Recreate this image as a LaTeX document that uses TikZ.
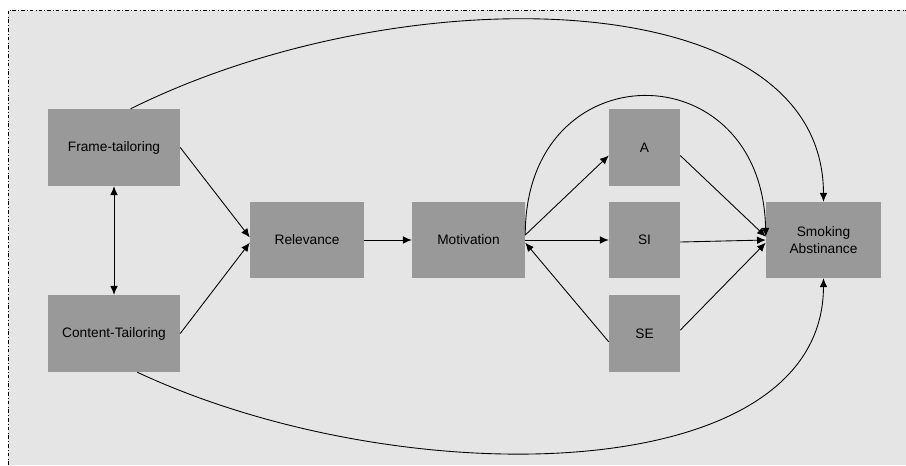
\documentclass[tikz,border=0pt]{standalone}
\usepackage{fontspec}
\setmainfont{Liberation Sans}
\usetikzlibrary{arrows.meta}
\definecolor{boxgrey}{HTML}{999999}
\definecolor{bggrey}{HTML}{E5E5E5}

\tikzset{
	box/.style={fill=boxgrey, inner sep=0pt, align=center, font=\fontsize{11.7}{14}\selectfont},
	link/.style={line width=0.75pt, -{Latex[length=7.5pt,width=6.5pt]}},
}

\begin{document}
\begin{tikzpicture}[x=0.03cm, y=-0.03cm]
			\useasboundingbox (0,0) rectangle (906,465);
			\fill[bggrey] (8,10) rectangle (906,465);
			\draw[dash dot, line width=0.6pt] (8,465) -- (8,10) -- (906,10);
			
			\node[box, minimum width=3.96cm, minimum height=2.31cm] (frame) at (114,147.5) {Frame-tailoring};
			\node[box, minimum width=3.96cm, minimum height=2.31cm] (content) at (114,333.5) {Content-Tailoring};
			\node[box, minimum width=3.42cm, minimum height=2.28cm] (relev) at (307,240) {Relevance};
			\node[box, minimum width=3.39cm, minimum height=2.28cm] (motiv) at (468.5,240) {Motivation};
			\node[box, minimum width=2.13cm, minimum height=2.31cm] (att) at (644.5,147.5) {A};
			\node[box, minimum width=2.13cm, minimum height=2.28cm] (si) at (644.5,240) {SI};
			\node[box, minimum width=2.13cm, minimum height=2.31cm] (se) at (644.5,333.5) {SE};
			\node[box, minimum width=3.45cm, minimum height=2.28cm] (smoke) at (823.5,240) {Smoking\\Abstinance};
			
			\draw[link, {Latex[length=7.5pt,width=6.5pt]}-{Latex[length=7.5pt,width=6.5pt]}] (frame.south) -- (content.north);
			\draw[link] (frame.east) -- ([yshift=0.08cm]relev.west);
			\draw[link] (content.east) -- ([yshift=-0.08cm]relev.west);
			\draw[link] (relev) -- (motiv);
			\draw[link] ([yshift=0.15cm]motiv.east) -- ([yshift=-0.24cm]att.west);
			\draw[link] (motiv) -- (si);
			\draw[link] ([yshift=-0.25cm]se.west) -- ([yshift=-0.08cm]motiv.east);
			\draw[link] ([yshift=-0.24cm]att.east) -- ([yshift=0.1cm]smoke.west);
			\draw[link] ([yshift=-0.06cm]si.east) -- (smoke.west);
			\draw[link] ([yshift=0.1cm]se.east) -- ([yshift=-0.08cm]smoke.west);
			
			% curved paths
			\draw[link] ([yshift=0.15cm]motiv.east) .. controls (525,50) and (762,50) .. ([yshift=0.1cm]smoke.west);
			\draw[link] ([xshift=0.5cm]frame.north) .. controls (400,-25) and (823,-20) .. (smoke.north);
			\draw[link] ([xshift=0.7cm]content.south) .. controls (400,495) and (823,490) .. (smoke.south);
\end{tikzpicture}
\end{document}
